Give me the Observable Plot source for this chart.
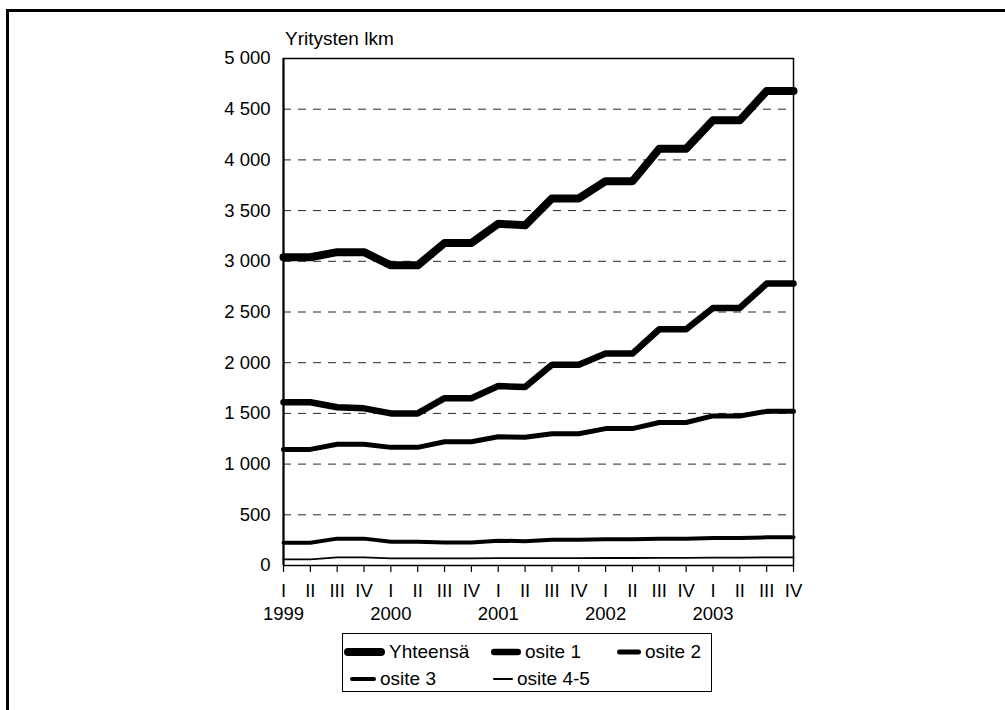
<!DOCTYPE html>
<html>
<head>
<meta charset="utf-8">
<script src="https://cdn.jsdelivr.net/npm/d3@7"></script>
<script src="https://cdn.jsdelivr.net/npm/@observablehq/plot@0.6"></script>
<style>
  html, body { margin: 0; padding: 0; background: #fff; }
  body { width: 1005px; height: 710px; position: relative; overflow: hidden; font-family: "Liberation Sans", Arial, sans-serif; }
  #frame { position: absolute; left: 6px; top: 9px; width: 1100px; height: 800px; border-left: 3px solid #000; border-top: 3px solid #000; box-sizing: border-box; }
  #chart { position: absolute; left: 0; top: 0; }
  #ytitle { position: absolute; left: 285px; top: 28px; font-size: 19px; color: #000; }
  #legend { position: absolute; left: 342px; top: 633px; width: 370px; height: 59px; border: 1.5px solid #000; box-sizing: border-box; font-size: 19px; }
  .item { position: absolute; display: flex; align-items: center; height: 24px; }
  .item svg { display: block; }
  .item span { margin-left: 4px; }
</style>
</head>
<body>
<div id="frame"></div>
<div id="chart"></div>
<div id="ytitle">Yritysten lkm</div>
<div id="legend"></div>
<script>
// ---- data ----
const quarters = ["I", "II", "III", "IV"];
const years = [1999, 2000, 2001, 2002, 2003];
const seriesNames = ["Yhteensä", "osite 1", "osite 2", "osite 3", "osite 4-5"];
const yhteensa = [3040, 3040, 3090, 3090, 2960, 2960, 3180, 3180, 3370, 3355, 3620, 3620, 3790, 3790, 4110, 4110, 4390, 4390, 4680, 4680];
const osite1   = [1610, 1610, 1560, 1550, 1500, 1500, 1650, 1650, 1770, 1760, 1980, 1980, 2090, 2090, 2330, 2330, 2540, 2540, 2780, 2780];
const osite2   = [1145, 1145, 1195, 1195, 1165, 1165, 1220, 1220, 1270, 1265, 1300, 1300, 1350, 1350, 1410, 1410, 1475, 1475, 1520, 1520];
const osite3   = [225, 225, 265, 265, 235, 235, 228, 228, 245, 240, 255, 255, 258, 258, 265, 265, 270, 270, 278, 278];
const osite45  = [60, 60, 80, 80, 70, 70, 70, 70, 72, 72, 73, 73, 74, 74, 76, 76, 78, 78, 80, 80];
const yTicks = [0, 500, 1000, 1500, 2000, 2500, 3000, 3500, 4000, 4500, 5000];

// ---- build ----
const allSeries = [yhteensa, osite1, osite2, osite3, osite45];
const widths = [8, 6.5, 5, 4, 1.8];
const idx = d3.range(years.length * quarters.length);
const rows = allSeries.map((vals, s) => vals.map((v, i) => ({series: seriesNames[s], i, v})));
const fmt = d => d3.format(",")(d).replace(/,/g, " ");

const plot = Plot.plot({
  width: 1005,
  height: 710,
  marginLeft: 283,
  marginRight: 212,
  marginTop: 58,
  marginBottom: 145,
  style: {fontFamily: "'Liberation Sans', Arial, sans-serif", fontSize: "18.5px", color: "#000", background: "transparent"},
  x: {type: "linear", domain: [0, idx.length - 1]},
  y: {domain: [0, 5000]},
  marks: [
    Plot.gridY(yTicks, {stroke: "#000", strokeOpacity: 0.85, strokeWidth: 1, strokeDasharray: "8,7"}),
    Plot.frame({stroke: "#000", strokeWidth: 1.5}),
    Plot.ruleX([0], {stroke: "#000", strokeWidth: 2}),
    Plot.axisY(yTicks, {tickSize: 0, tickPadding: 13, tickFormat: fmt, label: null, fontSize: 18.5}),
    Plot.axisX(idx, {tickSize: 7, tickPadding: 11, tickFormat: i => quarters[i % 4], label: null, fontSize: 18.5, strokeWidth: 1.2}),
    Plot.axisX(idx.filter(i => i % 4 === 0), {tickSize: 0, tickPadding: 41, tickFormat: i => String(years[i / 4]), label: null, fontSize: 18.5}),
    ...rows.map((r, s) => Plot.line(r, {x: "i", y: "v", stroke: "#000", strokeWidth: widths[s], strokeLinecap: "round", strokeLinejoin: "round"}))
  ]
});
document.getElementById("chart").appendChild(plot);

// ---- legend ----
const legendPos = [
  {left: 0, top: 6, sw: 42},
  {left: 148, top: 6, sw: 30},
  {left: 274, top: 6, sw: 24},
  {left: 7, top: 33, sw: 26},
  {left: 150, top: 33, sw: 20}
];
const legend = document.getElementById("legend");
seriesNames.forEach((name, s) => {
  const p = legendPos[s];
  const div = document.createElement("div");
  div.className = "item";
  div.style.left = p.left + "px";
  div.style.top = p.top + "px";
  const w = widths[s];
  div.innerHTML = `<svg width="${p.sw}" height="14"><line x1="${w/2 + (s===0?1:0)}" x2="${p.sw - w/2}" y1="7" y2="7" stroke="#000" stroke-width="${w}" stroke-linecap="round"/></svg><span>${name}</span>`;
  legend.appendChild(div);
});
</script>
</body>
</html>
